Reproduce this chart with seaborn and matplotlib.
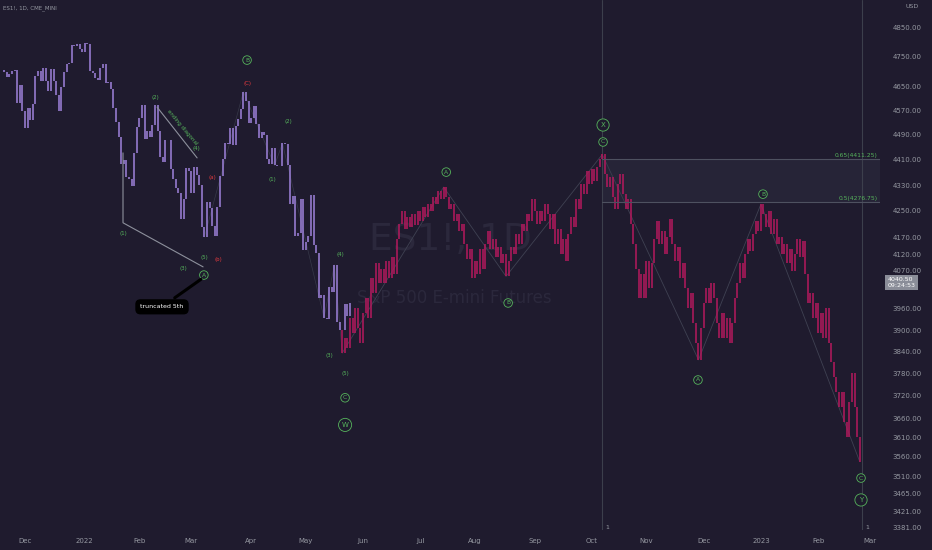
import numpy as np
import pandas as pd
import seaborn as sns
import matplotlib.pyplot as plt
from matplotlib import font_manager
from matplotlib.ticker import NullLocator, NullFormatter

# ES1! daily closes, 18 Nov 2021 .. 25 May 2022 (purple, real bars)
real_close = [
    4704, 4698, 4682, 4690, 4701, 4705, 4595, 4655, 4567,
    4513, 4577, 4538, 4591, 4686, 4701, 4668, 4712, 4669, 4634, 4709, 4668,
    4620, 4568, 4649, 4697, 4726, 4730, 4791, 4786, 4793, 4778, 4766,
    4797, 4794, 4701, 4696, 4677, 4670, 4713, 4726, 4660, 4663, 4640,
    4577, 4533, 4483, 4398, 4410, 4357, 4350, 4327, 4432, 4516,
    4546, 4589, 4477, 4501, 4484, 4522, 4587, 4504, 4419, 4402,
    4472, 4475, 4380, 4349, 4320, 4304, 4226, 4288, 4385, 4374,
    4306, 4387, 4363, 4329, 4201, 4171, 4278, 4260, 4204, 4173, 4262, 4358,
    4412, 4463, 4461, 4512, 4456, 4520, 4543, 4575, 4632, 4602, 4530,
    4546, 4583, 4525, 4481, 4500, 4488, 4413, 4397, 4447, 4392, 4390,
    4391, 4463, 4459, 4394, 4272, 4297, 4175, 4183, 4288, 4132,
    4155, 4175, 4300, 4147, 4123, 3991, 4001, 3935, 3930, 4024,
    4008, 4088, 3923, 3901, 3901, 3974, 3941, 3978,
]

# projected path (magenta), 20 May 2022 .. 23 Feb 2023
proj_start = 131
proj_close = [
    3836, 3878, 3850, 3934, 3892, 3962, 3906, 3864, 3948, 3990,
    3934, 4048, 4005, 4092, 4034, 4077, 4034, 4100, 4048, 4112,
    4062, 4165, 4210, 4250, 4195, 4232, 4201, 4241, 4207, 4250,
    4220, 4262, 4232, 4271, 4250, 4293, 4271, 4312, 4287, 4324,
    4293, 4256, 4271, 4220, 4241, 4189, 4210, 4150, 4106, 4136,
    4048, 4100, 4062, 4136, 4077, 4150, 4189, 4136, 4165, 4112,
    4142, 4092, 4121, 4054, 4100, 4142, 4121, 4180, 4150, 4210,
    4189, 4241, 4220, 4287, 4250, 4210, 4250, 4220, 4271, 4241,
    4195, 4241, 4150, 4195, 4121, 4165, 4100, 4180, 4232, 4201,
    4287, 4256, 4333, 4302, 4374, 4333, 4380, 4343, 4386, 4411,
    4427, 4364, 4324, 4355, 4293, 4256, 4333, 4364, 4302, 4256,
    4287, 4210, 4150, 4077, 3990, 4062, 3990, 4100, 4019, 4092,
    4165, 4220, 4150, 4189, 4121, 4171, 4226, 4150, 4100, 4142,
    4048, 4092, 4019, 3962, 4005, 3920, 3864, 3817, 3906, 3976,
    4019, 3976, 4034, 3990, 3920, 3878, 3948, 3878, 3934, 3864,
    3920, 3990, 4034, 4092, 4048, 4121, 4165, 4130, 4180, 4220,
    4189, 4271, 4241, 4201, 4250, 4180, 4226, 4150, 4171, 4121,
    4150, 4092, 4136, 4071, 4121, 4165, 4112, 4159, 4062, 3976,
    4005, 3934, 3976, 3892, 3948, 3878, 3962, 3864, 3810, 3769,
    3729, 3689, 3729, 3649, 3610, 3702, 3782, 3689, 3610, 3547,
]

price_ticks = [4850, 4750, 4650, 4570, 4490, 4410, 4330, 4250, 4170, 4120,
               4070, 3960, 3900, 3840, 3780, 3720, 3660, 3610, 3560, 3510,
               3465, 3421, 3381]
fib_levels = [4411.25, 4276.75]
fib_ratios = ["0.65", "0.5"]
last_price = 4040.50
countdown = "09:24:53"

# pivots (bar index) joined by thin wave lines
wave_main = [131, 170, 194, 231, 268, 292, 330]
wave_sub = [78, 93, 105, 108, 124, 128, 131]

# wave labels: text, bar index, price, style
wave_labels = [
    ("(1)", 46.7, 4183, "g"), ("(2)", 59.0, 4614, "g"), ("(3)", 69.8, 4076, "g"),
    ("(4)", 74.8, 4447, "g"), ("(5)", 77.8, 4111, "g"), ("A", 77.8, 4058, "c"),
    ("(a)", 80.9, 4353, "r"), ("(b)", 83.2, 4103, "r"), ("(C)", 94.4, 4658, "r"),
    ("B", 94.4, 4739, "c"), ("(1)", 104.0, 4347, "g"), ("(2)", 110.2, 4535, "g"),
    ("(4)", 130.2, 4120, "g"), ("(3)", 125.9, 3828, "g"), ("(5)", 132.1, 3781, "g"),
    ("C", 132.1, 3714, "c"), ("W", 132.1, 3642, "C"),
    ("A", 171.0, 4371, "c"), ("B", 194.8, 3977, "c"),
    ("X", 231.3, 4522, "C"), ("C", 231.3, 4467, "c"),
    ("A", 267.8, 3762, "c"), ("B", 292.8, 4302, "c"),
    ("C", 330.5, 3505, "c"), ("Y", 330.5, 3450, "C"),
]

BG = "#1f1b2e"
PURPLE = "#9a7fd6"
MAGENTA = "#b0195c"
GREEN = "#56b45c"
RED = "#e0393e"
GREY = "#9598a1"

sns.set_theme(style="dark", rc={"axes.facecolor": BG, "figure.facecolor": BG})
names = {f.name for f in font_manager.fontManager.ttflist}
narrow = "Liberation Sans Narrow" if "Liberation Sans Narrow" in names else "DejaVu Sans"
plt.rcParams["font.family"] = [narrow, "DejaVu Sans"]

fig = plt.figure(figsize=(9.32, 5.5), dpi=100)
ax = fig.add_axes([0, 20 / 550, 880 / 932, 530 / 550])
ax.set_facecolor(BG)
ax.set_yscale("log")
ax.set_xlim(-0.6, 337.8)
ax.set_ylim(3376, 4949)

# watermark
ax.text(0.512, 0.547, "ES1!, 1D", transform=ax.transAxes, ha="center", va="center",
        fontsize=27, color="#2b283c", zorder=0)
ax.text(0.516, 0.438, "S&P 500 E-mini Futures", transform=ax.transAxes, ha="center",
        va="center", fontsize=12, color="#2b283c", zorder=0)

# bars: body from previous close to close
real_idx = np.arange(len(real_close))
real_open = [real_close[0]] + real_close[:-1]
ax.vlines(real_idx, np.minimum(real_open, real_close), np.maximum(real_open, real_close),
          color=PURPLE, lw=1.15, zorder=2)
proj_idx = np.arange(proj_start, proj_start + len(proj_close))
proj_open = [real_close[proj_start - 1]] + proj_close[:-1]
ax.vlines(proj_idx, np.minimum(proj_open, proj_close), np.maximum(proj_open, proj_close),
          color=MAGENTA, lw=1.15, zorder=2)

# wave lines
closes = dict(zip(real_idx, real_close))
closes.update(zip(proj_idx, proj_close))
sns.lineplot(x=wave_main, y=[closes[i] for i in wave_main], ax=ax, sort=False,
             estimator=None, color="#3f4152", lw=0.6, zorder=1)
sns.lineplot(x=wave_sub, y=[closes[i] for i in wave_sub], ax=ax, sort=False,
             estimator=None, color="#363848", lw=0.5, zorder=1)

# ending diagonal wedge
ax.plot([46.7, 46.7, 77.5], [4432, 4214, 4082], color="#8d909c", lw=0.8, zorder=3)
ax.plot([59.8, 75.2], [4581, 4416], color="#8d909c", lw=0.8, zorder=3)
ax.text(69.6, 4515, "ending diagonal", rotation=-50, color=GREEN, fontsize=4,
        ha="center", va="center", zorder=4)

# fib retracement box
fib_x0 = wave_main[3]
ax.fill_between([fib_x0, 337.8], fib_levels[1], fib_levels[0], color="#34374a",
                alpha=0.35, lw=0, zorder=1)
for lvl, r in zip(fib_levels, fib_ratios):
    ax.plot([fib_x0, 337.8], [lvl, lvl], color="#4e5160", lw=0.8, zorder=3)
    ax.text(337.0, lvl * 1.001, f"{r}({lvl:.2f})", ha="right", va="bottom",
            color=GREEN, fontsize=4.3, zorder=4)

# vertical time markers
for vx in (wave_main[3], wave_main[-1] + 1):
    ax.axvline(vx, color="#3c3f4c", lw=0.8, zorder=1)
    ax.text(vx + 1, 0.004, "1", transform=ax.get_xaxis_transform(), color=GREY,
            fontsize=4.5, ha="left", va="center")

# wave labels
for txt, bx, by, kind in wave_labels:
    if kind == "g":
        ax.text(bx, by, txt, color=GREEN, fontsize=4, ha="center", va="center", zorder=4)
    elif kind == "r":
        ax.text(bx, by, txt, color=RED, fontsize=4, ha="center", va="center", zorder=4)
    else:
        big = kind == "C"
        ax.text(bx, by, txt, color=GREEN, fontsize=5 if big else 4.3, ha="center",
                va="center", zorder=4,
                bbox=dict(boxstyle=f"circle,pad={0.45 if big else 0.3}", fc=BG,
                          ec=GREEN, lw=0.6))

# truncated 5th callout
ax.annotate("truncated 5th", xy=(77.5, 4050), xytext=(61.7, 3966), color="white",
            fontsize=4.5, ha="center", va="center", zorder=5,
            bbox=dict(boxstyle="round,pad=0.7", fc="black", ec="black"),
            arrowprops=dict(arrowstyle="-", color="black", lw=2.2))

# axes, ticks
dates = pd.bdate_range("2021-11-18", periods=345)
months = dates.to_period("M")
first = np.flatnonzero(months[1:] != months[:-1]) + 1
first = first[first < 337]
ax.set_xticks(first)
ax.set_xticklabels([str(dates[i].year) if dates[i].month == 1 else dates[i].strftime("%b")
                    for i in first])
ax.yaxis.tick_right()
ax.yaxis.set_minor_locator(NullLocator())
ax.yaxis.set_minor_formatter(NullFormatter())
ax.set_yticks(price_ticks)
ax.set_yticklabels([f"{v:.2f}" for v in price_ticks])
ax.tick_params(axis="x", length=0, pad=6, labelsize=5, labelcolor=GREY)
ax.tick_params(axis="y", length=0, pad=9, labelsize=5, labelcolor=GREY)
ax.grid(False)
for s in ax.spines.values():
    s.set_visible(False)

ax.annotate(f"{last_price:.2f}\n{countdown}", xy=(1, last_price),
            xycoords=ax.get_yaxis_transform(), xytext=(5.5, 3), textcoords="offset points",
            ha="left", va="top", fontsize=4.5, color="white", linespacing=1.2,
            bbox=dict(boxstyle="square,pad=0.35", fc="#8a8d98", ec="none"))

fig.text(3 / 932, 1 - 8 / 550, "ES1!, 1D, CME_MINI", fontsize=4, color=GREY, va="center")
fig.text(905 / 932, 1 - 7 / 550, "USD", fontsize=4.5, color=GREY, va="center")

fig.savefig("out.png", dpi=100, facecolor=BG)
